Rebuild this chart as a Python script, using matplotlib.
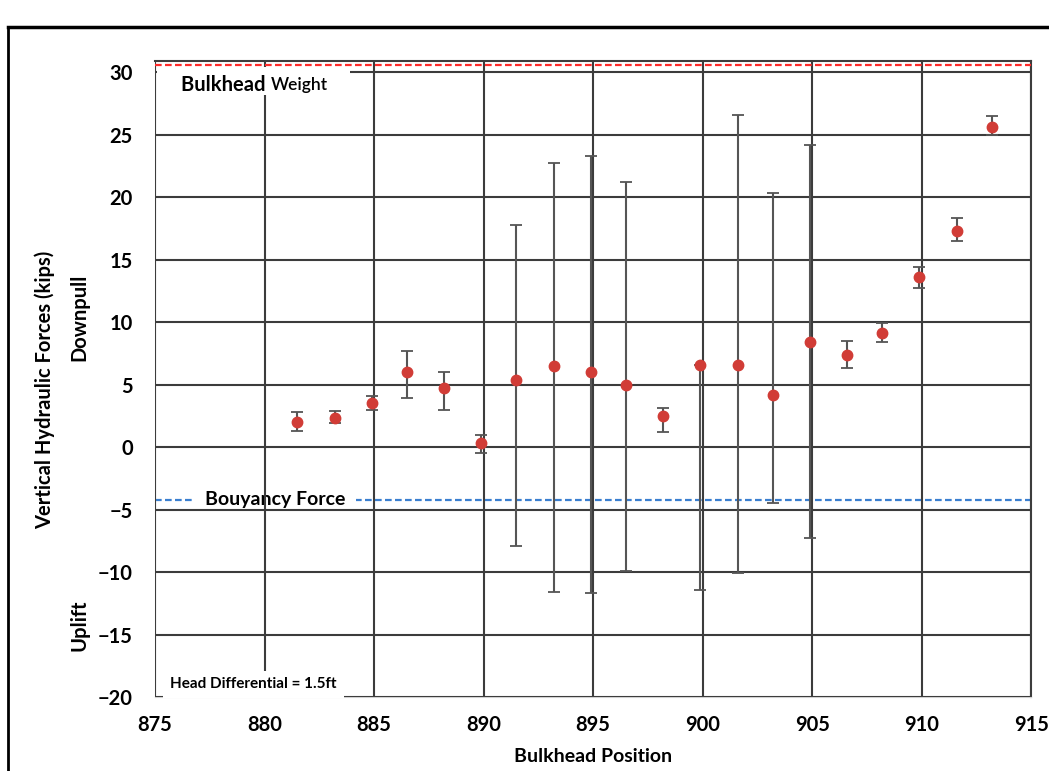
import matplotlib.pyplot as plt
from matplotlib.lines import Line2D
from matplotlib.patches import Rectangle

# bulkhead position vs vertical hydraulic force (kips)
position = [881.5, 883.2, 884.9, 886.5, 888.2, 889.9, 891.5, 893.2, 894.9, 896.5,
            898.2, 899.9, 901.6, 903.2, 904.9, 906.6, 908.2, 909.9, 911.6, 913.2]
force = [2.0, 2.3, 3.5, 6.0, 4.7, 0.3, 5.4, 6.5, 6.0, 5.0,
         2.5, 6.6, 6.6, 4.2, 8.4, 7.4, 9.1, 13.6, 17.3, 25.6]
err_low = [1.3, 1.9, 3.0, 3.9, 3.0, -0.5, -7.9, -11.6, -11.7, -9.9,
           1.2, -11.4, -10.1, -4.5, -7.3, 6.3, 8.4, 12.7, 16.5, 25.0]
err_high = [2.8, 2.9, 4.1, 7.7, 6.0, 1.0, 17.8, 22.7, 23.3, 21.2,
            3.1, 6.6, 26.6, 20.3, 24.2, 8.5, 9.9, 14.4, 18.3, 26.5]

bulkhead_weight = 30.6
buoyancy_force = -4.2

plt.rcParams['font.family'] = ['Lato', 'DejaVu Sans']

fig = plt.figure(figsize=(10.49, 7.71), dpi=100)
ax = fig.add_axes([0.1478, 0.096, 0.8352, 0.825])

yerr = [[f - lo for f, lo in zip(force, err_low)],
        [hi - f for f, hi in zip(force, err_high)]]
ax.errorbar(position, force, yerr=yerr, fmt='o', color='#d13c36', markersize=7.5,
            ecolor='#555555', elinewidth=1.5, capsize=4, capthick=1.3, zorder=4)

ax.axhline(bulkhead_weight, color='#ff2a2a', lw=1.6, ls=(0, (3, 1.5)), zorder=3)
ax.axhline(buoyancy_force, color='#3a7fd0', lw=1.6, ls=(0, (3, 1.5)), zorder=1)

ax.set_xlim(875, 915)
ax.set_ylim(-20, 30.9)
ax.set_xticks(range(875, 916, 5))
ax.set_yticks(range(-20, 31, 5))
ax.set_axisbelow(False)
ax.grid(True, color='#3c3c3c', lw=1.5)
ax.tick_params(length=0, labelsize=14.5)
ax.tick_params(axis='x', pad=13)
ax.tick_params(axis='y', pad=16)
for lab in ax.get_xticklabels() + ax.get_yticklabels():
    lab.set_fontweight('bold')
for side in ['left', 'bottom']:
    ax.spines[side].set_color('#d0d0d0')
for side in ['top', 'right']:
    ax.spines[side].set_color('#3c3c3c')
    ax.spines[side].set_linewidth(1.5)

# white label box under "Bulkhead Weight"
ax.add_patch(Rectangle((0.002, 0.9465), 0.221, 0.044, transform=ax.transAxes,
                       fc='white', ec='none', zorder=5))
t1 = ax.text(876.2, 29.0, "Bulkhead ", fontsize=14.5, fontweight='bold', va='center', zorder=6)
ax.annotate("Weight", xy=(1, 0.5), xycoords=t1, va='center', ha='left', fontsize=12.5,
            fontweight='semibold', zorder=6)
ax.text(877.3, buoyancy_force, "Bouyancy Force", fontsize=14, fontweight='bold',
        va='center', zorder=2, bbox=dict(boxstyle='square,pad=0.55', fc='white', ec='none'))
ax.text(875.7, -19.0, "Head Differential = 1.5ft", fontsize=11, fontweight='bold',
        va='center', zorder=5, bbox=dict(boxstyle='square,pad=0.45', fc='white', ec='none'))

fig.text(0.043, 0.494, "Vertical Hydraulic Forces (kips)", rotation=90, ha='center',
         va='center', fontsize=14.5, fontweight='bold')
fig.text(0.076, 0.588, "Downpull", rotation=90, ha='center', va='center',
         fontsize=14.5, fontweight='bold')
fig.text(0.076, 0.189, "Uplift", rotation=90, ha='center', va='center',
         fontsize=14.5, fontweight='bold')
fig.text(0.565, 0.019, "Bulkhead Position", ha='center', va='center',
         fontsize=14, fontweight='bold')

# chart frame
fig.add_artist(Line2D([0.0076, 0.0076], [0, 0.965], color='black', lw=2))
fig.add_artist(Line2D([0.0076, 1], [0.965, 0.965], color='black', lw=2.5))

fig.savefig("out.png", dpi=100)
